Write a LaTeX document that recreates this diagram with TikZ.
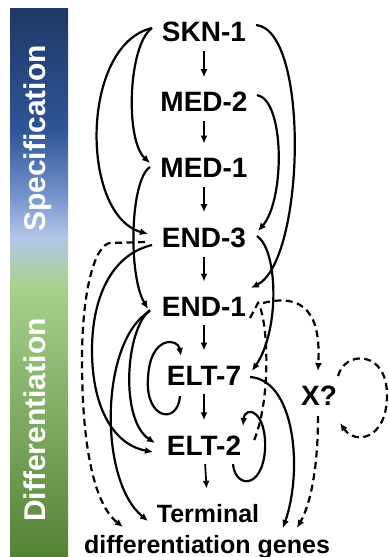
\documentclass[tikz,border=0pt]{standalone}
\usepackage{fontspec}
\setmainfont{Liberation Sans}
\usetikzlibrary{arrows.meta}
\definecolor{barA}{HTML}{1F3864}
\definecolor{barB}{HTML}{2E5597}
\definecolor{barC}{HTML}{7B98CF}
\definecolor{barD}{HTML}{B4C7E7}
\definecolor{barE}{HTML}{A9D18E}
\definecolor{barF}{HTML}{548235}
\begin{document}
\begin{tikzpicture}[x=1bp,y=-1bp,
  lab/.style={font=\fontsize{28bp}{33bp}\selectfont\bfseries, inner xsep=0pt, inner ysep=9bp, anchor=base},
  sublab/.style={font=\fontsize{25bp}{30bp}\selectfont\bfseries, inner xsep=0pt, inner ysep=9bp, anchor=base},
  side/.style={font=\fontsize{30bp}{36bp}\selectfont\bfseries, text=white, rotate=90, anchor=base, inner sep=0pt},
  conn/.style={line width=2.2bp, -{Latex[length=8bp,width=7bp]}},
  vert/.style={line width=1.8bp, -{Latex[length=8bp,width=7bp]}, shorten >=6bp},
  dconn/.style={conn, dash pattern=on 7bp off 4.5bp},
  dline/.style={line width=2.2bp, dash pattern=on 7bp off 4.5bp},
]
\useasboundingbox (0,0) rectangle (388,557);
% side bar
\shade[top color=barA, bottom color=barB] (10,9) rectangle (68,130.5);
\shade[top color=barB, bottom color=barC] (10,130) rectangle (68,200.5);
\shade[top color=barC, bottom color=barD] (10,200) rectangle (68,238.5);
\shade[top color=barD, bottom color=barE] (10,238) rectangle (68,285.5);
\shade[top color=barE, bottom color=barF] (10,285) rectangle (68,557);
\node[side] (spec) at (45,138.5) {Specification};
\node[side] (diff) at (45,420) {Differentiation};
% nodes
\node[lab] (skn) at (204,42) {SKN-1};
\node[lab] (med2) at (204,112) {MED-2};
\node[lab] (med1) at (204,178) {MED-1};
\node[lab] (end3) at (204,247) {END-3};
\node[lab] (end1) at (204,316) {END-1};
\node[lab] (elt7) at (204,385) {ELT-7};
\node[lab] (elt2) at (204,455) {ELT-2};
\node[lab] (xq) at (319,405) {X?};
\node[sublab] (term1) at (208,522) {Terminal};
\node[sublab] (term2) at (207,553) {differentiation genes};
% vertical chain
\draw[vert] (skn) -- (med2);
\draw[vert] (med2) -- (med1);
\draw[vert] (med1) -- (end3);
\draw[vert] (end3) -- (end1);
\draw[vert] (end1) -- (elt7);
\draw[vert] (elt7) -- (elt2);
\draw[vert] (elt2) -- (term1);
% left side curves
\draw[conn] ([shift={(-52,-14)}]skn.base) .. controls (128,45) and (125,140) .. ([shift={(-54,-15)}]med1.base);
\draw[conn] ([shift={(-52,-14)}]skn.base) .. controls (80,45) and (80,215) .. ([shift={(-56,-13)}]end3.base);
\draw[conn] ([shift={(-54,-11)}]med1.base) .. controls (130,180) and (128,275) .. ([shift={(-56,-7)}]end1.base);
\draw[conn] ([shift={(-52,-2)}]end3.base) .. controls (110,255) and (92,300) .. (92,350) .. controls (92,410) and (115,445) .. ([shift={(-51,-3)}]elt2.base);
\draw[conn] ([shift={(-54,-6)}]end1.base) .. controls (125,330) and (120,420) .. ([shift={(-49,-12)}]elt2.base);
\draw[conn] ([shift={(-54,-5)}]end1.base) .. controls (100,340) and (98,480) .. ([shift={(-60,-1)}]term1.base);
\draw[dconn] ([shift={(-59,-5)}]end3.base) -- (110,243) .. controls (95,245) and (82,290) .. (82,360) .. controls (82,450) and (95,505) .. ([shift={(-84,-26)}]term2.base);
% self loops
\draw[conn] ([shift={(-24,11)}]elt7.base) .. controls (178,425) and (145,420) .. (148,378) .. controls (150,335) and (178,338) .. ([shift={(-23,-29)}]elt7.base);
\draw[conn] ([shift={(29,9)}]elt2.base) .. controls (235,488) and (262,490) .. (265,450) .. controls (267,410) and (245,405) .. ([shift={(39,-29)}]elt2.base);
% right side curves
\draw[conn] ([shift={(52,-17)}]skn.base) .. controls (310,30) and (305,260) .. ([shift={(47,-28)}]end1.base);
\draw[conn] ([shift={(53,-17)}]med2.base) .. controls (285,100) and (285,200) .. ([shift={(54,-16)}]end3.base);
\draw[conn] ([shift={(53,-11)}]end3.base) .. controls (278,250) and (280,330) .. ([shift={(48,-14)}]elt7.base);
\draw[conn] ([shift={(46,-8)}]elt7.base) .. controls (295,380) and (303,470) .. ([shift={(76,-25)}]term2.base);
% dashed
\draw[dconn] ([shift={(59,-13)}]end1.base) .. controls (315,290) and (320,330) .. ([shift={(-1,-34)}]xq.base);
\draw[dline] ([shift={(46,2)}]end1.base) -- (258,303) .. controls (268,318) and (272,400) .. ([shift={(49,-12)}]elt2.base);
\draw[dconn] ([shift={(19,-29)}]xq.base) .. controls (345,350) and (387,350) .. (387,395) .. controls (387,440) and (355,445) .. ([shift={(21,18)}]xq.base);
\draw[dconn] ([shift={(-1,11)}]xq.base) .. controls (318,470) and (310,505) .. ([shift={(90,-25)}]term2.base);
\end{tikzpicture}
\end{document}
